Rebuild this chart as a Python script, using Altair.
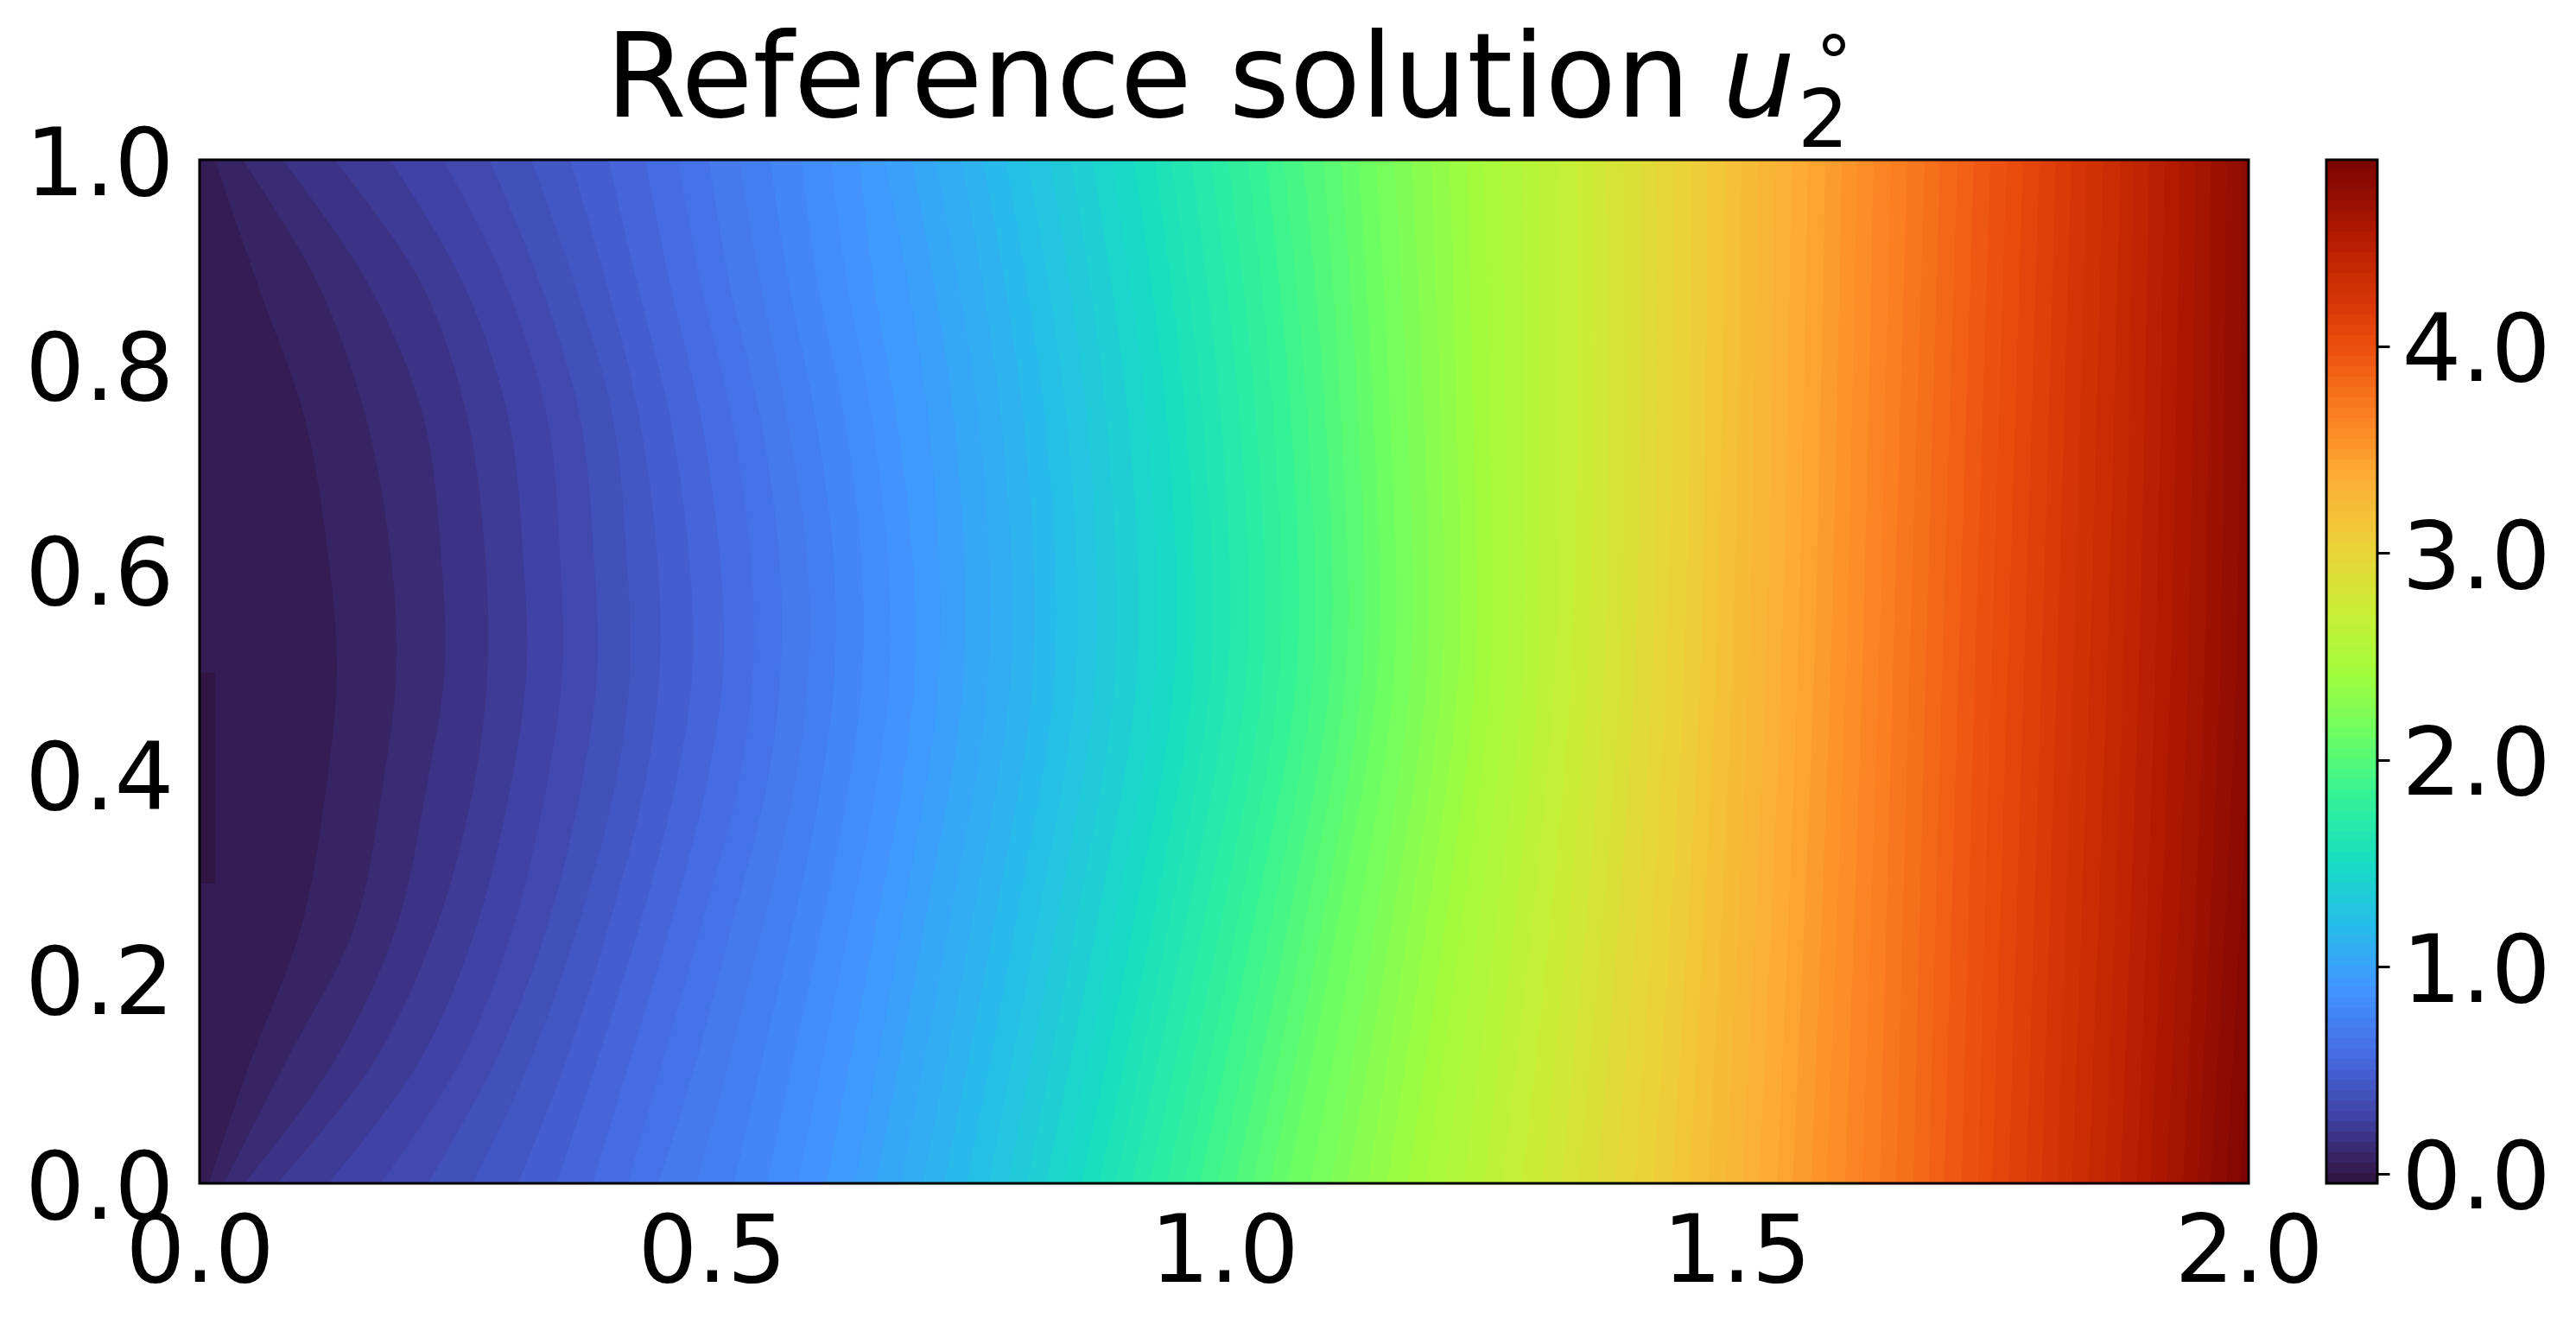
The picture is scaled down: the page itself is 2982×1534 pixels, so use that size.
import altair as alt
import pandas as pd

FONT = "DejaVu Sans"

# Contour levels
LEVELS = [-0.048,0.002,0.052,0.102,0.152,0.202,0.252,0.302,0.352,0.402,
          0.452,0.502,0.552,0.602,0.652,0.702,0.752,0.802,0.852,0.902,
          0.952,1.002,1.052,1.102,1.152,1.202,1.252,1.302,1.352,1.402,
          1.452,1.502,1.552,1.602,1.652,1.702,1.752,1.802,1.852,1.902,
          1.952,2.002,2.052,2.102,2.152,2.202,2.252,2.302,2.352,2.402,
          2.452,2.502,2.552,2.602,2.652,2.702,2.752,2.802,2.852,2.902,
          2.952,3.002,3.052,3.102,3.152,3.202,3.252,3.302,3.352,3.402,
          3.452,3.502,3.552,3.602,3.652,3.702,3.752,3.802,3.852,3.902,
          3.952,4.002,4.052,4.102,4.152,4.202,4.252,4.302,4.352,4.402,
          4.452,4.502,4.552,4.602,4.652,4.702,4.752,4.802,4.852,4.902]

# x where contour level 2, 3, 4 ... crosses each height y
CROSS_Y100 = [.015,.042,.081,.132,.186,.238,.283,.324,.362,.399,.435,.467,.497,.527,.557,.587,.616,.644,
              .669,.695,.718,.744,.765,.787,.808,.830,.851,.871,.890,.912,.932,.948,.968,.987,1.004,1.023,1.041,1.058,
              1.077,1.097,1.114,1.131,1.148,1.166,1.183,1.202,1.220,1.237,1.253,1.271,1.291,1.307,
              1.327,1.344,1.359,1.372,1.390,1.408,1.422,1.440,1.457,1.472,1.490,1.505,1.521,1.538,1.554,1.570,
              1.587,1.603,1.618,1.634,1.651,1.667,1.684,1.699,1.716,1.732,1.748,1.764,1.780,1.796,1.812,1.827,
              1.842,1.858,1.875,1.888,1.903,1.918,1.933,1.948,1.963,1.978,1.993,2.009,2.024]
CROSS_Y088 = [.056,.115,.164,.216,.257,.298,.332,.366,.397,.427,.459,.489,.517,.547,.575,.603,.632,.658]
CROSS_Y075 = [.102,.162,.218,.261,.301,.339,.371,.403,.429,.459,.489,.519,.547,.573,.601,.629,.656,.680,
              .711,.736,.760,.782,.804,.825,.846,.866,.885,.906,.924,.944,.962,.979,.997,1.015,1.031,1.048,1.065,1.081,
              1.099,1.114,1.131,1.146,1.162,1.179,1.195,1.211,1.227,1.243,1.259,1.275,1.292,1.307]
CROSS_Y061 = [.126,.187,.236,.279,.316,.352,.385,.417,.447,.478,.508,.538,.566,.593,.619,.646,.672,.696]
CROSS_Y050 = [.134,.192,.239,.281,.319,.354,.388,.420,.449,.481,.511,.540,.567,.594,.620,.647,.674,.698,
              .722,.746,.770,.792,.814,.835,.856,.875,.894,.915,.933,.952,.970,.987,1.004,1.022,1.038,1.054,1.071,1.087,
              1.104,1.119,1.135,1.150,1.166,1.182,1.198,1.213,1.229,1.245,1.260,1.276,1.292,1.307,
              1.323,1.339,1.355,1.371,1.387,1.401,1.418,1.432,1.449,1.465,1.480,1.496,1.512,1.529,1.544,1.560,
              1.576,1.592,1.607,1.623,1.639,1.653,1.669,1.685,1.701,1.717,1.733,1.749,1.765,1.781,1.798,1.813,
              1.829,1.845,1.862,1.878,1.893,1.909,1.924,1.941,1.957,1.972,1.988,2.003,2.018]
CROSS_Y039 = [.124,.179,.222,.268,.304,.339,.373,.406,.435,.465,.495,.526,.554,.581,.607,.634,.661,.686]
CROSS_Y025 = [.099,.151,.192,.231,.270,.306,.339,.369,.399,.429,.459,.489,.519,.549,.579,.607,.634,.660,
              .685,.707,.731,.753,.775,.796,.817,.836,.855,.875,.892,.911,.929,.945,.962,.979,.996,1.012,1.028,1.045,
              1.062,1.078,1.095,1.110,1.129,1.147,1.163,1.180,1.197,1.215,1.231,1.248,1.265,1.283]
CROSS_Y012 = [.050,.085,.132,.171,.215,.255,.289,.323,.358,.388,.420,.452,.485,.517,.549,.579,.608,.635]
CROSS_Y000 = [.009,.024,.044,.076,.126,.177,.223,.267,.311,.349,.384,.418,.448,.485,.522,.554,.584,.612,
              .640,.660,.684,.706,.727,.749,.770,.789,.808,.826,.843,.861,.878,.894,.910,.927,.944,.961,.976,.994,
              1.011,1.028,1.045,1.062,1.084,1.104,1.120,1.140,1.159,1.179,1.196,1.215,1.234,1.254,
              1.271,1.291,1.310,1.329,1.346,1.364,1.382,1.401,1.419,1.437,1.454,1.472,1.490,1.506,1.522,1.540,
              1.555,1.573,1.588,1.606,1.623,1.640,1.656,1.673,1.688,1.703,1.720,1.736,1.750,1.766,1.783,1.798,
              1.813,1.828,1.844,1.860,1.875,1.891,1.904,1.920,1.936,1.950,1.963,1.978,1.992]
ROWS = [(0.0, CROSS_Y000), (0.12, CROSS_Y012), (0.25, CROSS_Y025), (0.39, CROSS_Y039), (0.5, CROSS_Y050),
        (0.61, CROSS_Y061), (0.75, CROSS_Y075), (0.88, CROSS_Y088), (1.0, CROSS_Y100)]

# Small darkest patch on the left edge
PATCH_X = [0.0, 0.015]
PATCH_Y = [0.293, 0.499]

TURBO_VALUES = [-0.048,0.263,0.573,0.883,1.194,1.504,1.815,2.125,2.436,2.746,3.057,3.367,3.677,3.988,4.194,4.547,4.900]
TURBO_COLORS = ["#30123b","#4040a2","#466be3","#4294ff","#28bceb","#18ddc2","#32f298","#6dfe62","#a4fc3c",
                "#cdec34","#eecf3a","#fdac34","#fb7e21","#eb4f0e","#d93806","#b11901","#7a0403"]

X_TICKS = [0, 0.5, 1.0, 1.5, 2.0]
Y_TICKS = [0, 0.2, 0.4, 0.6, 0.8, 1.0]
CB_TICKS = [0, 1, 2, 3, 4]

def mid(k):
    return (LEVELS[k] + LEVELS[k + 1]) / 2

records = []
for y, xs in ROWS:
    for i, x in enumerate(xs):
        k = i + 2
        records.append({"k": k, "y": y, "x": x, "edge": 2.05, "band": mid(k)})
contours = pd.DataFrame(records).sort_values(["k", "y"])

WIDTH, HEIGHT = 2372, 1185
color = alt.Color("band:Q", legend=None,
                  scale=alt.Scale(domain=TURBO_VALUES, range=TURBO_COLORS, interpolate="rgb"))

xaxis = alt.Axis(values=X_TICKS, format=".1f", title=None, labelFont=FONT, labelFontSize=108.3, labelColor="black",
                 tickSize=0, domain=False, grid=False, labelPadding=27, labelFlush=False, labelOverlap=False)
yaxis = alt.Axis(values=Y_TICKS, format=".1f", title=None, labelFont=FONT, labelFontSize=108.3, labelColor="black",
                 tickSize=0, domain=False, grid=False, labelPadding=30, labelOffset=8, labelOverlap=False)
xs = alt.Scale(domain=[0, 2], nice=False, zero=False)
ys = alt.Scale(domain=[0, 1], nice=False, zero=False)

base = alt.Chart(pd.DataFrame({"x0": [0.0], "x1": [2.0], "y0": [0.0], "y1": [1.0], "band": [mid(1)]})).mark_rect().encode(
    x=alt.X("x0:Q", scale=xs, axis=xaxis), x2="x1:Q",
    y=alt.Y("y0:Q", scale=ys, axis=yaxis), y2="y1:Q", color=color)

areas = alt.Chart(contours).mark_area(orient="horizontal", interpolate="catmull-rom", clip=True).encode(
    y=alt.Y("y:Q", scale=ys, axis=yaxis), x=alt.X("x:Q", scale=xs, axis=xaxis), x2="edge:Q",
    detail="k:O", color=color)

patch = alt.Chart(pd.DataFrame({"x0": [PATCH_X[0]], "x1": [PATCH_X[1]], "y0": [PATCH_Y[0]], "y1": [PATCH_Y[1]],
                                "band": [mid(0)]})).mark_rect().encode(
    x=alt.X("x0:Q", scale=xs, axis=xaxis), x2="x1:Q",
    y=alt.Y("y0:Q", scale=ys, axis=yaxis), y2="y1:Q", color=color)

def frame(w, h):
    return alt.Chart(pd.DataFrame({"a": [0]})).mark_rect(fill=None, stroke="black", strokeWidth=3).encode(
        x=alt.value(0), x2=alt.value(w), y=alt.value(0), y2=alt.value(h))

def label(text, px, py, size, style="normal"):
    return alt.Chart(pd.DataFrame({"a": [0]})).mark_text(
        font=FONT, fontSize=size, fontStyle=style, align="left", baseline="alphabetic", color="black").encode(
        x=alt.value(px), y=alt.value(py), text=alt.value(text))

main = alt.layer(
    base, areas, patch, frame(WIDTH, HEIGHT),
    label("Reference solution", 470, -50, 134.8),
    label("u", 1763, -50, 133, "oblique"),
    label("2", 1850, -15, 93),
    label("\u00b0", 1871, -84.5, 84),
).properties(width=WIDTH, height=HEIGHT)

bands = pd.DataFrame({"lo": LEVELS[:-1], "band": [mid(k) for k in range(len(LEVELS) - 1)], "hi": 4.9})
cbar_rect = alt.Chart(bands).mark_rect(clip=True).encode(
    y=alt.Y("lo:Q", scale=alt.Scale(domain=[-0.048, 4.9], nice=False, zero=False),
            axis=alt.Axis(orient="right", values=CB_TICKS, format=".1f", title=None, labelFont=FONT, labelFontSize=108.3,
                          labelColor="black", tickSize=14, tickWidth=3, tickColor="black", domain=False, grid=False,
                          labelPadding=14, labelOffset=8, labelOverlap=False)),
    y2="hi:Q", color=color)
cbar = alt.layer(cbar_rect, frame(59, HEIGHT)).properties(width=59, height=HEIGHT)

chart = alt.hconcat(main, cbar, spacing=1).properties(
    padding={"left": 20, "top": 19, "right": 10, "bottom": 20}, background="white"
).configure_view(stroke=None)

chart.save("out.html", embed_options={"renderer": "svg", "actions": False})
